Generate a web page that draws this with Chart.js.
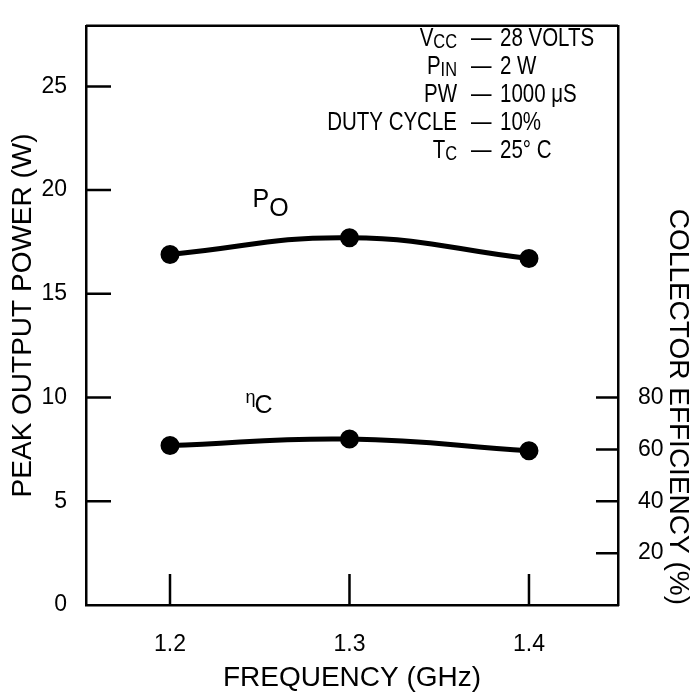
<!DOCTYPE html>
<html>
<head>
<meta charset="utf-8">
<script src="https://cdn.jsdelivr.net/npm/chart.js@4"></script>
<style>
  html, body { margin: 0; padding: 0; background: #fff; }
  #wrap { width: 693px; height: 695px; }
</style>
</head>
<body>
<div id="wrap"><canvas id="chart"></canvas></div>
<script>
// data
const frequency = [1.2, 1.3, 1.4];          // GHz
const peakPower = [16.9, 17.7, 16.7];       // W (left axis)
const efficiency = [61.5, 64, 59.5];        // % (right axis)

const powerTicks = [0, 5, 10, 15, 20, 25];
const effTicks = [20, 40, 60, 80];
const freqTicks = [1.2, 1.3, 1.4];

// test conditions box: main text, subscript, value
const condLabels = ["V", "P", "PW", "DUTY CYCLE", "T"];
const condSubs = ["CC", "IN", "", "", "C"];
const condValues = ["28 VOLTS", "2 W", "1000 \u03bcS", "10%", "25\u00b0 C"];

const FONT = "'Liberation Sans', Arial, sans-serif";
Chart.defaults.font.family = FONT;
Chart.defaults.color = "#000";

function toPoints(ys) {
    return frequency.map((f, i) => ({ x: f, y: ys[i] }));
}

// draws narrow (condensed) text, returns drawn width
function narrowText(ctx, text, x, y, size, align) {
    const squeeze = 0.82;
    ctx.save();
    ctx.font = size + "px " + FONT;
    const w = ctx.measureText(text).width * squeeze;
    ctx.translate(x, y);
    ctx.scale(squeeze, 1);
    ctx.textAlign = align;
    ctx.textBaseline = "alphabetic";
    ctx.fillText(text, 0, 0);
    ctx.restore();
    return w;
}

const extras = {
    id: "extras",
    beforeDatasetsDraw(chart) {
        const { ctx, chartArea: a, scales } = chart;
        ctx.save();
        ctx.strokeStyle = "#000";
        ctx.lineWidth = 2.5;
        ctx.beginPath();
        ctx.moveTo(a.left, a.top);
        ctx.lineTo(a.right, a.top); //top frame line
        ctx.stroke();

        // ticks point into the plot
        ctx.beginPath();
        powerTicks.forEach(v => {
            if (v === 0) return;
            const py = scales.y.getPixelForValue(v);
            ctx.moveTo(a.left, py);
            ctx.lineTo(a.left + 25, py);
        });
        effTicks.forEach(v => {
            const py = scales.y2.getPixelForValue(v);
            ctx.moveTo(a.right - 22, py);
            ctx.lineTo(a.right, py);
        });
        freqTicks.forEach(v => {
            const px = scales.x.getPixelForValue(v);
            ctx.moveTo(px, a.bottom);
            ctx.lineTo(px, a.bottom - 31);
        });
        ctx.stroke();
        ctx.restore();
    },
    afterDraw(chart) {
        const { ctx, scales } = chart;
        const x = scales.x, y = scales.y;
        ctx.save();
        ctx.fillStyle = "#000";

        // curve names
        ctx.font = "25px " + FONT;
        let px = x.getPixelForValue(1.246);
        ctx.fillText("P", px, y.getPixelForValue(19.2));
        ctx.fillText("O", px + ctx.measureText("P").width, y.getPixelForValue(18.73));

        px = x.getPixelForValue(1.242);
        ctx.font = "18px " + FONT;
        ctx.fillText("\u03b7", px, y.getPixelForValue(9.75));
        ctx.font = "25px " + FONT;
        ctx.fillText("C", px + 9, y.getPixelForValue(9.25));

        // conditions
        const colRight = 457;
        const rowY = [46, 74, 102, 130, 158];
        condLabels.forEach((lab, i) => {
            let right = colRight;
            if (condSubs[i]) {
                const w = narrowText(ctx, condSubs[i], right, rowY[i] + 2, 20, "right");
                right -= w;
            }
            narrowText(ctx, lab, right, rowY[i], 25, "right");
            narrowText(ctx, "\u2014", 471, rowY[i], 25, "left");
            narrowText(ctx, condValues[i], 500, rowY[i], 25, "left");
        });
        ctx.restore();
    }
};

const lineStyle = {
    borderColor: "#000",
    backgroundColor: "#000",
    borderWidth: 5,
    pointRadius: 7,
    pointHoverRadius: 7,
    tension: 0.45
};

new Chart(document.getElementById("chart"), {
    type: "line",
    data: {
        datasets: [
            { label: "PO", data: toPoints(peakPower), yAxisID: "y", ...lineStyle },
            { label: "\u03b7C", data: toPoints(efficiency), yAxisID: "y2", ...lineStyle }
        ]
    },
    options: {
        responsive: true,
        maintainAspectRatio: false,
        animation: false,
        layout: { padding: { top: 13, left: 0, right: 0, bottom: 0 } },
        plugins: { legend: { display: false }, tooltip: { enabled: false } },
        scales: {
            x: {
                type: "linear",
                min: 1.1532,
                max: 1.4496,
                afterBuildTicks: s => { s.ticks = freqTicks.map(v => ({ value: v })); },
                afterFit: s => { s.height = 90; },
                grid: { display: false },
                border: { display: true, color: "#000", width: 2.5 },
                ticks: { font: { size: 23 }, padding: 18, callback: v => v.toFixed(1) },
                title: {
                    display: true, text: "FREQUENCY (GHz)",
                    font: { size: 28, lineHeight: 1 }, padding: { top: 0, bottom: 3 }
                }
            },
            y: {
                position: "left",
                min: 0,
                max: 27.92,
                afterBuildTicks: s => { s.ticks = powerTicks.map(v => ({ value: v })); },
                afterFit: s => { s.width = 86; },
                grid: { display: false },
                border: { display: true, color: "#000", width: 2.5 },
                ticks: { font: { size: 23 }, padding: 11 },
                title: {
                    display: true, text: "PEAK OUTPUT POWER (W)",
                    font: { size: 28, lineHeight: 1 }, padding: { top: 9, bottom: 0 }
                }
            },
            y2: {
                position: "right",
                min: 0,
                max: 223.4,
                afterBuildTicks: s => { s.ticks = effTicks.map(v => ({ value: v })); },
                afterFit: s => { s.width = 75; },
                grid: { display: false },
                border: { display: true, color: "#000", width: 2.5 },
                ticks: { font: { size: 23 }, padding: 12 },
                title: {
                    display: true, text: "COLLECTOR EFFICIENCY (%)", align: "start",
                    font: { size: 28, lineHeight: 1 }, padding: { top: 1, bottom: 0 }
                }
            }
        }
    },
    plugins: [extras]
});
</script>
</body>
</html>
